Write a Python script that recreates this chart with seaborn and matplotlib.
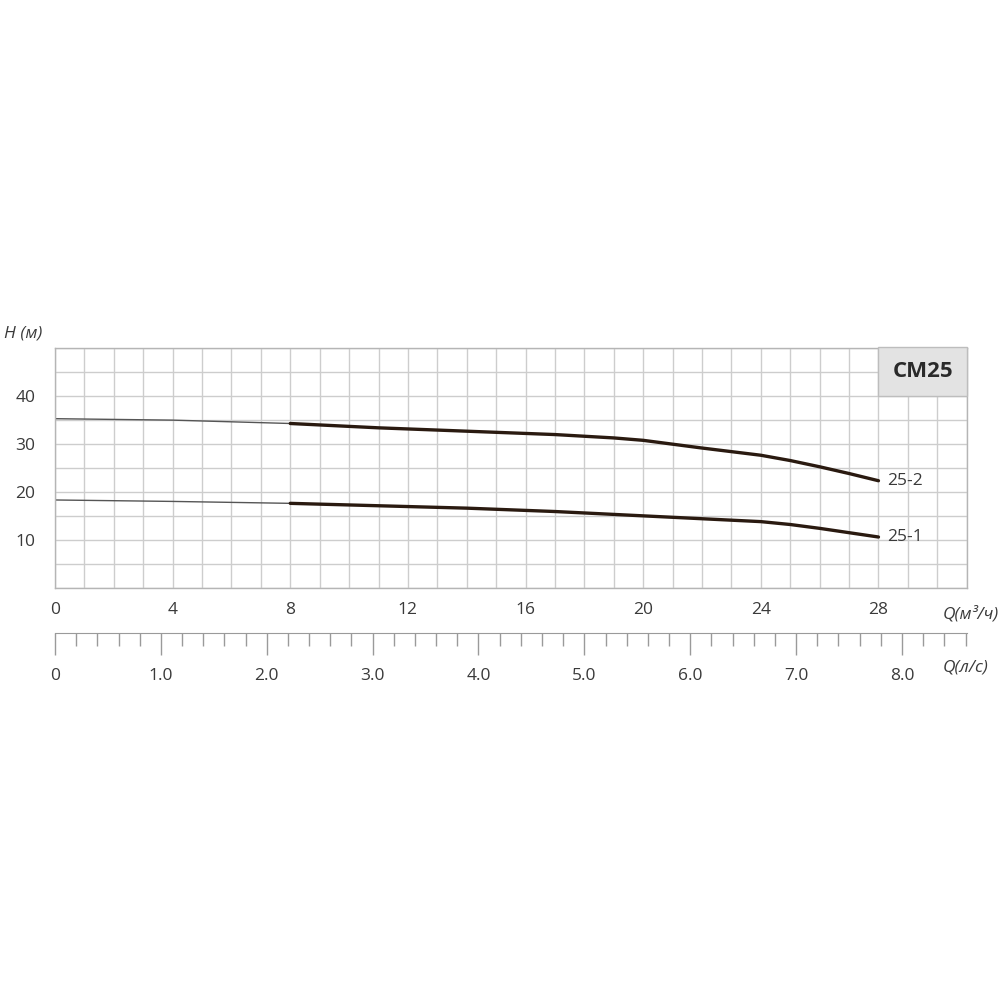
import matplotlib
matplotlib.use("Agg")
import matplotlib.pyplot as plt
import seaborn as sns
import pandas as pd
import numpy as np

# pump curves, Q in m3/h, H in m
q_points = [0, 4, 8, 11, 14, 17, 19, 20, 22, 24, 25, 26, 27, 28]
h_25_2 = [35.2, 34.9, 34.2, 33.3, 32.6, 31.9, 31.2, 30.7, 29.1, 27.6, 26.5, 25.2, 23.8, 22.3]
h_25_1 = [18.3, 18.0, 17.6, 17.1, 16.6, 15.9, 15.3, 15.0, 14.4, 13.8, 13.2, 12.4, 11.5, 10.6]
curve_names = ["25-2", "25-1"]
thick_from = 8  # curves drawn thin below this Q

q_ticks = [0, 4, 8, 12, 16, 20, 24, 28]
h_ticks = [10, 20, 30, 40]
ls_ticks = [0, 1, 2, 3, 4, 5, 6, 7, 8]
ls_labels = ["0", "1.0", "2.0", "3.0", "4.0", "5.0", "6.0", "7.0", "8.0"]
model = "CM25"

sns.set_style("white")
plt.rcParams["font.family"] = ["Open Sans", "DejaVu Sans"]
txt = "#3a3a3a"
grid_c = "#cdcdcd"
fs = 12.5

fig = plt.figure(figsize=(10, 10), dpi=100)
ax = fig.add_axes([0.055, 0.412, 0.9117, 0.2405])

rows = []
for name, hs in zip(curve_names, [h_25_2, h_25_1]):
    for q, h in zip(q_points, hs):
        rows.append({"curve": name, "Q": q, "H": h})
df = pd.DataFrame(rows)

for name in curve_names:
    d = df[df["curve"] == name]
    thin = d[d["Q"] <= thick_from]
    thick = d[d["Q"] >= thick_from]
    sns.lineplot(data=thin, x="Q", y="H", ax=ax, color="#555555", lw=1.0, sort=False)
    sns.lineplot(data=thick, x="Q", y="H", ax=ax, color="#2a1a10", lw=2.4, sort=False)
    end = d.iloc[-1]
    ax.text(end["Q"] + 0.3, end["H"], name, fontsize=fs, color=txt, va="center", ha="left")

ax.set_xlim(0, 31)
ax.set_ylim(0, 50)
ax.set_xticks(np.arange(0, 32, 1), minor=True)
ax.set_yticks(np.arange(0, 51, 5), minor=True)
ax.set_xticks(q_ticks)
ax.set_yticks(h_ticks)
ax.grid(which="both", color=grid_c, lw=1.0)
ax.tick_params(which="both", length=0, labelsize=fs, colors=txt)
ax.tick_params(axis="x", pad=10)
ax.tick_params(axis="y", pad=14)
ax.set_xlabel("")
ax.set_ylabel("")
for s in ax.spines.values():
    s.set_color("#b5b5b5")
    s.set_linewidth(1.0)

# model box in top-right corner
ax.add_patch(plt.Rectangle((28, 40), 3, 10, facecolor="#e3e3e3", edgecolor="#bdbdbd", lw=1.0, zorder=3, clip_on=False))
ax.text(29.5, 45, model, fontsize=16, fontweight="bold", color="#2a2a2a", ha="center", va="center", zorder=4)

fig.text(0.004, 0.667, "H (м)", fontsize=fs, style="italic", color=txt, va="center")
fig.text(0.943, 0.386, "Q(м³/ч)", fontsize=fs, style="italic", color=txt, va="center")

# second scale, l/s
ax2 = fig.add_axes([0.055, 0.367, 0.9117, 0.001])
ax2.set_xlim(0, 31 / 3.6)
ax2.set_ylim(0, 1)
for k in ["top", "left", "right"]:
    ax2.spines[k].set_visible(False)
ax2.spines["bottom"].set_color("#9a9a9a")
ax2.set_yticks([])
ax2.set_xticks(ls_ticks)
ax2.set_xticklabels(ls_labels)
ax2.set_xticks(np.arange(0, 8.7, 0.2), minor=True)
ax2.tick_params(axis="x", which="both", bottom=True)
ax2.tick_params(axis="x", which="major", length=16, width=1.0, color="#9a9a9a", labelsize=fs, labelcolor=txt, pad=9, direction="out")
ax2.tick_params(axis="x", which="minor", length=9, width=1.0, color="#9a9a9a", direction="out")
ax2.patch.set_alpha(0)
fig.text(0.943, 0.332, "Q(л/с)", fontsize=fs, style="italic", color=txt, va="center")

fig.savefig("out.png", dpi=100)
